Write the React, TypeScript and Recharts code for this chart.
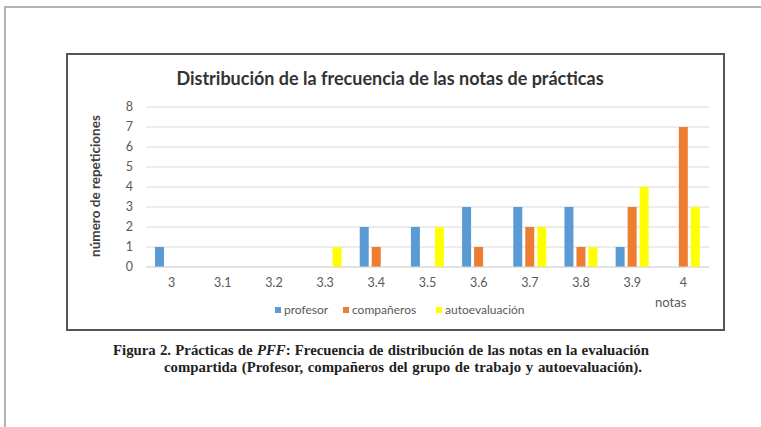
import { Bar, BarChart, CartesianGrid, XAxis, YAxis } from "recharts";

const notas = ["3", "3.1", "3.2", "3.3", "3.4", "3.5", "3.6", "3.7", "3.8", "3.9", "4"];
const profesor = [1, 0, 0, 0, 2, 2, 3, 3, 3, 1, 0];
const companeros = [0, 0, 0, 0, 1, 0, 1, 2, 1, 3, 7];
const autoevaluacion = [0, 0, 0, 1, 0, 2, 0, 2, 1, 4, 3];
const yTicks = [0, 1, 2, 3, 4, 5, 6, 7, 8];

const BLUE = "#5B9BD5";
const ORANGE = "#ED7D31";
const YELLOW = "#FFFF00";
const SANS = "Lato, 'Open Sans', sans-serif";
const SERIF = "'Liberation Serif', serif";

const data = notas.map((n, i) => ({
  nota: n,
  profesor: profesor[i],
  companeros: companeros[i],
  autoevaluacion: autoevaluacion[i],
}));

const legendItems = [
  { label: "profesor", color: BLUE, left: 275 },
  { label: "compañeros", color: ORANGE, left: 343 },
  { label: "autoevaluación", color: YELLOW, left: 436 },
];

export default function App() {
  return (
    <div
      style={{
        position: "absolute",
        left: 0,
        top: 0,
        width: 761,
        height: 427,
        background: "#fff",
        overflow: "hidden",
        fontFamily: SANS,
      }}
    >
      {/* page frame */}
      <div
        style={{
          position: "absolute",
          left: 4,
          top: 6,
          width: 800,
          height: 500,
          border: "2px solid #b3b3b3",
        }}
      />
      {/* chart box */}
      <div
        style={{
          position: "absolute",
          left: 66,
          top: 53,
          width: 659,
          height: 278,
          boxSizing: "border-box",
          border: "2px solid #555",
        }}
      >
        <BarChart
          width={655}
          height={274}
          data={data}
          barSize={9}
          barGap={3}
          margin={{ top: 52, right: 14, left: 0, bottom: 32 }}
        >
          <CartesianGrid vertical={false} stroke="#d9d9d9" />
          <XAxis
            dataKey="nota"
            height={30}
            tickLine={false}
            axisLine={{ stroke: "#d9d9d9" }}
            tick={{ fill: "#595959", fontSize: 12.5, fontFamily: SANS, dy: 3 }}
            interval={0}
          />
          <YAxis
            width={78}
            domain={[0, 8]}
            ticks={yTicks}
            interval={0}
            axisLine={false}
            tickLine={false}
            tickSize={0}
            tickMargin={13}
            tick={{ fill: "#595959", fontSize: 12.5, fontFamily: SANS }}
          />
          <Bar dataKey="profesor" fill={BLUE} isAnimationActive={false} />
          <Bar dataKey="companeros" fill={ORANGE} isAnimationActive={false} />
          <Bar dataKey="autoevaluacion" fill={YELLOW} isAnimationActive={false} />
        </BarChart>
      </div>

      <div
        style={{
          position: "absolute",
          left: 0,
          width: 780,
          top: 67,
          textAlign: "center",
          fontSize: 18,
          fontWeight: 700,
          color: "#333",
        }}
      >
        Distribución de la frecuencia de las notas de prácticas
      </div>

      <div
        style={{
          position: "absolute",
          left: 95,
          top: 186,
          transform: "translate(-50%, -50%) rotate(-90deg)",
          whiteSpace: "nowrap",
          fontSize: 13.5,
          fontWeight: 700,
          color: "#404040",
        }}
      >
        número de repeticiones
      </div>

      <div
        style={{
          position: "absolute",
          left: 655,
          top: 294,
          fontSize: 13,
          color: "#595959",
        }}
      >
        notas
      </div>

      {legendItems.map((it) => (
        <div
          key={it.label}
          style={{
            position: "absolute",
            left: it.left,
            top: 302,
            display: "flex",
            alignItems: "center",
            fontSize: 12,
            color: "#595959",
            whiteSpace: "nowrap",
          }}
        >
          <span style={{ width: 6, height: 6, background: it.color, marginRight: 3 }} />
          {it.label}
        </div>
      ))}

      <div
        style={{
          position: "absolute",
          left: 113,
          top: 342,
          width: 536,
          fontFamily: SERIF,
          fontWeight: 700,
          fontSize: 14.8,
          color: "#222",
          textAlign: "justify",
          textAlignLast: "justify",
          whiteSpace: "nowrap",
        }}
      >
        Figura 2. Prácticas de <i>PFF</i>: Frecuencia de distribución de las notas en la evaluación
      </div>
      <div
        style={{
          position: "absolute",
          left: 164,
          top: 359,
          fontFamily: SERIF,
          fontWeight: 700,
          fontSize: 14.8,
          color: "#222",
          whiteSpace: "nowrap",
          wordSpacing: 1,
        }}
      >
        compartida (Profesor, compañeros del grupo de trabajo y autoevaluación).
      </div>
    </div>
  );
}
